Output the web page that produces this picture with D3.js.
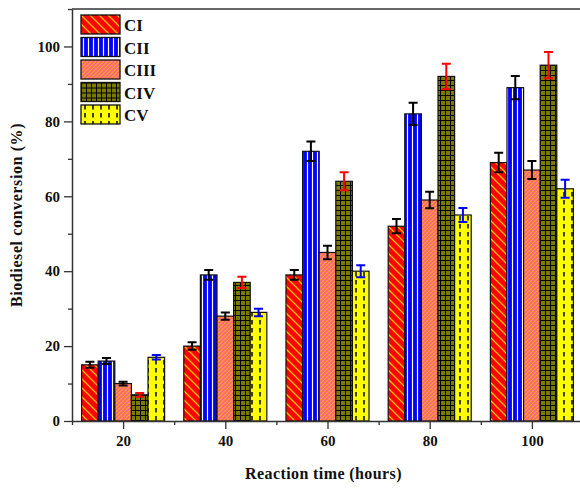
<!DOCTYPE html>
<html><head><meta charset="utf-8">
<script src="https://cdn.jsdelivr.net/npm/d3@7"></script>
<style>html,body{margin:0;padding:0;background:#fff;}svg{display:block;}</style>
</head><body>
<svg id="chart" width="580" height="489"></svg>
<script>
const categories = [20, 40, 60, 80, 100];
const seriesNames = ["CI", "CII", "CIII", "CIV", "CV"];
const CI   = [15, 20, 39, 52, 69];
const CII  = [16, 39, 72, 82, 89];
const CIII = [10, 28, 45, 59, 67];
const CIV  = [7, 37, 64, 92, 95];
const CV   = [17, 29, 40, 55, 62];
const errCI   = [0.8, 1.0, 1.3, 1.9, 2.6];
const errCII  = [0.8, 1.3, 2.6, 3.0, 3.1];
const errCIII = [0.5, 1.0, 1.8, 2.2, 2.4];
const errCIV  = [0.5, 1.5, 2.4, 3.4, 3.5];
const errCV   = [0.6, 1.0, 1.6, 1.9, 2.4];
const yTicks = [0, 20, 40, 60, 80, 100];
const xTicks = [20, 40, 60, 80, 100];

(function () {
const values = [CI, CII, CIII, CIV, CV];
const errors = [errCI, errCII, errCIII, errCIV, errCV];
const errColors = ["#000", "#000", "#000", "#ff0000", "#0000ff"];

const svg = d3.select("#chart");
const mLeft = 72, mRight = 583, mTop = 9, mBottom = 421;
const x = d3.scaleLinear().domain([10, 110]).range([mLeft, mRight]);
const y = d3.scaleLinear().domain([0, 110]).range([mBottom, mTop]);
const barW = 3.25; // in x units

const defs = svg.append("defs");
function pat(id, w, h, bg, draw) {
  const p = defs.append("pattern").attr("id", id).attr("patternUnits", "userSpaceOnUse")
    .attr("width", w).attr("height", h);
  p.append("rect").attr("width", w).attr("height", h).attr("fill", bg);
  draw(p);
}
pat("pCI", 9, 9, "#ff0000", p => p.append("path")
  .attr("d", "M0,0L9,9M-2,7L2,11M7,-2L11,2").attr("stroke", "#ffc000").attr("stroke-width", 1.3));
pat("pCII", 5, 10, "#0000ff", p => p.append("path")
  .attr("d", "M2.5,0L2.5,10").attr("stroke", "#ffffff").attr("stroke-width", 1.2));
pat("pCIII", 4, 4, "#ff6090", p => p.append("path")
  .attr("d", "M0,4L4,0M-1,1L1,-1M3,5L5,3").attr("stroke", "#ffaa10").attr("stroke-width", 1.2));
pat("pCIV", 5, 5, "#7a7a00", p => p.append("path")
  .attr("d", "M0,0.5L5,0.5M0.5,0L0.5,5").attr("stroke", "#000").attr("stroke-width", 1));
pat("pCV", 8, 8, "#ffff00", p => p.append("path")
  .attr("d", "M4,0L4,4.5").attr("stroke", "#000").attr("stroke-width", 1.5));
const fills = ["url(#pCI)", "url(#pCII)", "url(#pCIII)", "url(#pCIV)", "url(#pCV)"];

const g = svg.append("g");
seriesNames.forEach((name, i) => {
  const gs = g.append("g");
  gs.selectAll("rect").data(categories).enter().append("rect")
    .attr("x", (c) => x(c + (i - 2.5) * barW))
    .attr("width", x(10 + barW) - x(10))
    .attr("y", (c, j) => y(values[i][j]))
    .attr("height", (c, j) => y(0) - y(values[i][j]))
    .attr("fill", fills[i]).attr("stroke", "#111").attr("stroke-width", 1.2);
});
seriesNames.forEach((name, i) => {
  const ge = g.append("g").attr("stroke", errColors[i]).attr("stroke-width", 2).attr("fill", "none");
  categories.forEach((c, j) => {
    const cx = x(c + (i - 2) * barW);
    const v = values[i][j], e = errors[i][j];
    ge.append("path").attr("d",
      `M${cx},${y(v + e)}L${cx},${y(v - e)}M${cx - 4.5},${y(v + e)}L${cx + 4.5},${y(v + e)}M${cx - 4.5},${y(v - e)}L${cx + 4.5},${y(v - e)}`);
  });
});

const axisColor = "#333";
const font = "'Liberation Serif', 'Times New Roman', serif";
svg.append("g").attr("transform", `translate(${mLeft},0)`)
  .call(d3.axisLeft(y).tickValues(yTicks).tickSize(8).tickPadding(4).tickSizeOuter(0));
svg.append("g").attr("transform", `translate(${mLeft},0)`)
  .call(d3.axisLeft(y).tickValues([10, 30, 50, 70, 90, 110]).tickSize(4).tickFormat("").tickSizeOuter(0))
  .select(".domain").remove();
svg.append("g").attr("transform", `translate(0,${mBottom})`)
  .call(d3.axisBottom(x).tickValues(xTicks).tickSize(8).tickPadding(6).tickSizeOuter(0));
svg.append("g").attr("transform", `translate(0,${mBottom})`)
  .call(d3.axisBottom(x).tickValues([10, 30, 50, 70, 90, 110]).tickSize(4).tickFormat("").tickSizeOuter(0))
  .select(".domain").remove();
svg.append("line").attr("x1", mLeft).attr("x2", mRight).attr("y1", mTop).attr("y2", mTop)
  .attr("stroke", axisColor).attr("stroke-width", 1.5);
svg.selectAll(".domain").attr("stroke", axisColor).attr("stroke-width", 1.5);
svg.selectAll(".tick line").attr("stroke", axisColor).attr("stroke-width", 1.3);
svg.selectAll(".tick text").attr("font-family", font).attr("font-size", 15).attr("font-weight", "bold").attr("fill", "#111");

svg.append("text").attr("x", (mLeft + mRight) / 2 - 4).attr("y", 479).attr("text-anchor", "middle")
  .attr("font-family", font).attr("font-size", 16).attr("font-weight", "bold").attr("fill", "#111")
  .attr("letter-spacing", 0.4)
  .text("Reaction time (hours)");
svg.append("text").attr("transform", `translate(22,${(mTop + mBottom) / 2}) rotate(-90)`)
  .attr("text-anchor", "middle")
  .attr("font-family", font).attr("font-size", 16).attr("font-weight", "bold").attr("fill", "#111")
  .attr("letter-spacing", 0.6)
  .text("Biodiesel conversion (%)");

const lg = svg.append("g").attr("transform", "translate(81,15)");
seriesNames.forEach((name, i) => {
  const row = lg.append("g").attr("transform", `translate(0,${i * 22.5})`);
  row.append("rect").attr("width", 39).attr("height", 19).attr("fill", fills[i])
    .attr("stroke", "#111").attr("stroke-width", 1.3);
  row.append("text").attr("x", 43).attr("y", 16).attr("font-family", font)
    .attr("font-size", 17).attr("font-weight", "bold").attr("fill", "#111").text(name);
});
})();
</script>
</body></html>
